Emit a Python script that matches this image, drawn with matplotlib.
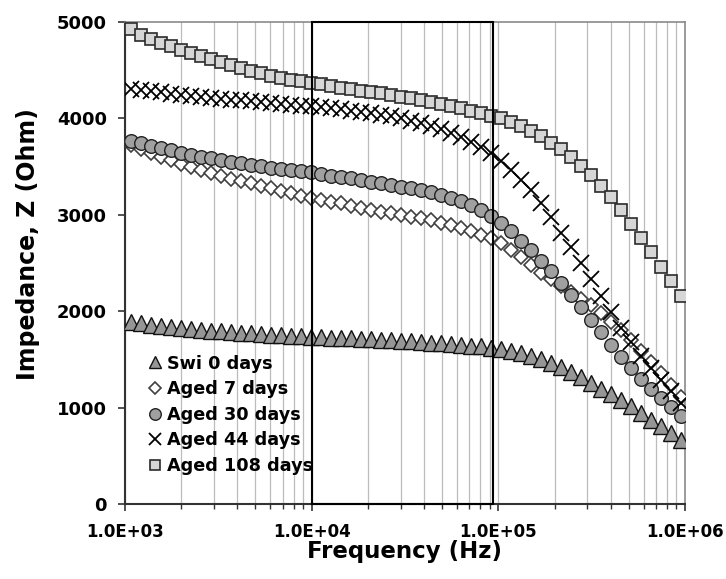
import matplotlib
matplotlib.use("Agg")
import matplotlib.pyplot as plt
from matplotlib.patches import Rectangle
from matplotlib.ticker import FixedLocator, NullFormatter

plt.rcParams["font.family"] = ["DejaVu Sans"]
plt.rcParams["font.weight"] = "bold"

# measured frequency sweep (Hz)
freq_hz = [1077, 1219, 1379, 1560, 1764, 1996, 2259, 2555, 2891, 3271, 3701, 4187,
           4737, 5360, 6063, 6860, 7761, 8780, 9933,
           11237, 12720, 14388, 16275, 18414, 20833, 23569, 26669, 30172, 34136,
           38620, 43692, 49431, 55924, 63270, 71581, 80977, 91651,
           103680, 117300, 132710, 150140, 169870, 192160, 217400, 245960, 278260,
           314790, 356210, 403000, 455930, 515970, 583710, 660390, 747130, 845280, 956340]

swi_0 = [1890, 1875, 1862, 1850, 1838, 1826, 1816, 1806, 1798, 1790, 1783, 1776, 1770, 1764, 1758, 1752, 1746, 1740, 1735,
         1730, 1726, 1722, 1717, 1712, 1707, 1702, 1697, 1692, 1687, 1681, 1675, 1668, 1660, 1652, 1644, 1636, 1622,
         1606, 1588, 1563, 1533, 1500, 1465, 1423, 1372, 1316, 1257, 1197, 1138, 1078, 1015, 948, 875, 805, 732, 660]
aged_7 = [3720, 3680, 3640, 3600, 3565, 3530, 3495, 3460, 3430, 3400, 3375, 3350, 3325, 3300, 3275, 3250, 3225, 3200, 3175,
          3155, 3138, 3120, 3095, 3070, 3050, 3032, 3015, 2998, 2980, 2963, 2945, 2920, 2895, 2862, 2828, 2792, 2756,
          2710, 2640, 2560, 2475, 2395, 2330, 2265, 2200, 2130, 2060, 1980, 1890, 1800, 1700, 1590, 1475, 1355, 1235, 1105]
aged_30 = [3770, 3745, 3718, 3693, 3668, 3646, 3624, 3604, 3586, 3568, 3551, 3534, 3518, 3503, 3490, 3477, 3465, 3453, 3442,
           3423, 3405, 3390, 3377, 3361, 3344, 3327, 3309, 3292, 3280, 3262, 3240, 3210, 3175, 3140, 3100, 3050, 2990,
           2915, 2830, 2732, 2630, 2525, 2415, 2295, 2170, 2045, 1912, 1785, 1652, 1528, 1410, 1302, 1198, 1098, 1005, 918]
aged_44 = [4310, 4295, 4282, 4270, 4258, 4247, 4236, 4226, 4216, 4206, 4196, 4186, 4176, 4166, 4157, 4149, 4141, 4133, 4125,
           4115, 4105, 4095, 4082, 4068, 4053, 4038, 4020, 4000, 3978, 3952, 3922, 3888, 3850, 3805, 3755, 3700, 3640,
           3555, 3465, 3361, 3255, 3125, 2975, 2815, 2665, 2505, 2330, 2155, 1990, 1830, 1680, 1540, 1410, 1290, 1170, 1050]
aged_108 = [4925, 4868, 4823, 4785, 4750, 4712, 4677, 4643, 4612, 4580, 4550, 4522, 4496, 4470, 4445, 4422, 4402, 4385, 4372,
            4357, 4338, 4320, 4303, 4288, 4274, 4259, 4243, 4226, 4209, 4191, 4173, 4154, 4132, 4107, 4081, 4054, 4027,
            4000, 3960, 3920, 3870, 3815, 3750, 3680, 3600, 3510, 3410, 3300, 3180, 3045, 2905, 2760, 2615, 2460, 2310, 2155]

labels = ["Swi 0 days", "Aged 7 days", "Aged 30 days", "Aged 44 days", "Aged 108 days"]
xtick_vals = [1e3, 1e4, 1e5, 1e6]
xtick_labels = ["1.0E+03", "1.0E+04", "1.0E+05", "1.0E+06"]
ytick_vals = [0, 1000, 2000, 3000, 4000, 5000]
box_range = (1e4, 9.4e4)

styles = [
    dict(marker="^", ms=11, mfc="#969696", mec="#111111", mew=1.0),
    dict(marker="D", ms=7, mfc="white", mec="#404040", mew=1.2),
    dict(marker="o", ms=9.8, mfc="#a0a0a0", mec="#222222", mew=1.0),
    dict(marker="x", ms=11, mfc="none", mec="black", mew=1.3),
    dict(marker="s", ms=8.5, mfc="#d6d6d6", mec="#2b2b2b", mew=1.2),
]

fig = plt.figure(figsize=(7.26, 5.79), dpi=100)
ax = fig.add_axes([0.1722, 0.1295, 0.7713, 0.8325])

for ys, lab, st in zip([swi_0, aged_7, aged_30, aged_44, aged_108], labels, styles):
    ax.plot(freq_hz, ys, ls="none", label=lab, zorder=3, **st)

ax.set_xscale("log")
ax.set_xlim(1e3, 1e6)
ax.set_ylim(0, 5000)

ax.xaxis.set_major_locator(FixedLocator(xtick_vals))
ax.set_xticklabels(xtick_labels)
minor = [m * d for d in (1e3, 1e4, 1e5) for m in range(2, 10)]
ax.xaxis.set_minor_locator(FixedLocator(minor))
ax.xaxis.set_minor_formatter(NullFormatter())
ax.set_yticks(ytick_vals)

ax.grid(True, axis="x", which="both", color="#bcbcbc", lw=0.9, zorder=0)
ax.set_axisbelow(True)

ax.tick_params(axis="x", which="major", length=5, width=1.2, color="#333333",
               labelsize=12, pad=9, direction="out")
ax.tick_params(axis="x", which="minor", length=3.5, width=1.0, color="#333333", direction="out")
ax.tick_params(axis="y", which="major", length=5, width=1.2, color="#333333",
               labelsize=13, pad=8, direction="out")
for lab in ax.get_xticklabels() + ax.get_yticklabels():
    lab.set_fontweight("bold")

for side in ("left", "bottom"):
    ax.spines[side].set_color("#333333")
    ax.spines[side].set_linewidth(1.5)
for side in ("top", "right"):
    ax.spines[side].set_color("#8a8a8a")
    ax.spines[side].set_linewidth(1.2)

ax.add_patch(Rectangle((box_range[0], 0), box_range[1] - box_range[0], 5000,
                       fill=False, ec="black", lw=1.5, zorder=4, clip_on=False))

ax.set_xlabel("Frequency (Hz)", fontsize=16.5, fontweight="bold")
ax.xaxis.set_label_coords(0.5, -0.075)
ax.set_ylabel("Impedance, Z (Ohm)", fontsize=17, fontweight="bold")
ax.yaxis.set_label_coords(-0.152, 0.54)

ax.legend(loc="upper left", bbox_to_anchor=(0.038, 0.31), frameon=False,
          prop=dict(size=12.7, weight="bold"), handlelength=1.0, handletextpad=0.2,
          labelspacing=0.43, borderpad=0, borderaxespad=0, markerscale=0.85)

fig.savefig("out.png", dpi=100)
